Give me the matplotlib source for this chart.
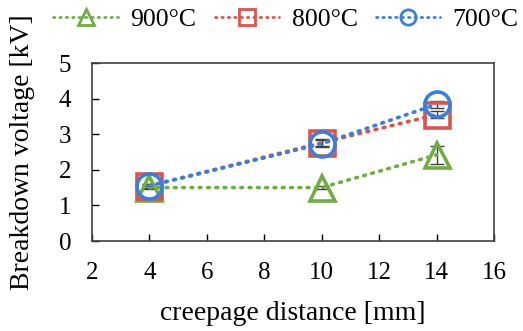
import matplotlib
matplotlib.use("Agg")
import matplotlib.pyplot as plt
from matplotlib.lines import Line2D

plt.rcParams['font.family'] = ['Liberation Serif', 'DejaVu Serif']

distance = [4, 10, 14]
v900 = [1.5, 1.5, 2.42]
v800 = [1.55, 2.76, 3.55]
v700 = [1.55, 2.73, 3.84]
err900 = [0.05, 0.05, 0.25]
err800 = [0.05, 0.1, 0.1]
err700 = [0.05, 0.1, 0.1]

series = [
    ("900°C", v900, err900, "#70AD47", "^"),
    ("800°C", v800, err800, "#D9534F", "s"),
    ("700°C", v700, err700, "#3A7FD9", "o"),
]

fig = plt.figure(figsize=(5.23, 3.31), dpi=100)
ax = fig.add_axes([92 / 523, 1 - 241 / 331, (494 - 92) / 523, (241 - 63) / 331])

handles = []
for name, vals, err, col, mk in series:
    ax.errorbar(distance, vals, yerr=err, fmt="none", ecolor="#404040",
                elinewidth=1.0, capsize=5, capthick=1.0, zorder=2)
    ax.plot(distance, vals, linestyle=(0, (0.5, 1.8)), dash_capstyle="round",
            linewidth=2.6, color=col, marker=mk, markersize=18,
            markerfacecolor="none", markeredgecolor=col, markeredgewidth=2.6,
            zorder=3)
    # smaller legend handle, as in the reference
    handles.append(Line2D([], [], linestyle=(0, (0.5, 1.8)), dash_capstyle="round",
                          linewidth=2.0, color=col, marker=mk, markersize=11,
                          markerfacecolor="none", markeredgewidth=2.0, label=name))

ax.set_xlim(2, 16)
ax.set_ylim(0, 5)
ax.set_xticks(range(2, 17, 2))
ax.set_yticks(range(0, 6))
ax.tick_params(direction="in", labelsize=18, length=5, width=1, pad=15)
for s in ax.spines.values():
    s.set_linewidth(1.2)
    s.set_color("#404040")
ax.set_xlabel("creepage distance [mm]", fontsize=20, labelpad=12)
ax.set_ylabel("Breakdown voltage [kV]", fontsize=20, labelpad=17)

fig.legend(handles=handles, loc="center", bbox_to_anchor=(0.547, 0.942), ncol=3,
           frameon=False, fontsize=18.5, handlelength=2.5,
           columnspacing=0.7, handletextpad=0.5, borderpad=0.1)

fig.savefig("out.png", dpi=100)
